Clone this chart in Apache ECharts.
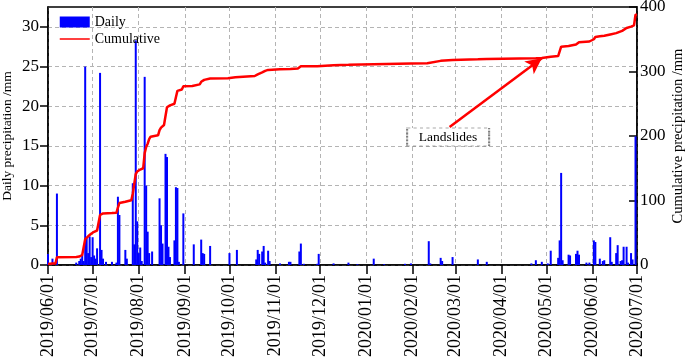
<!DOCTYPE html>
<html>
<head>
<meta charset="utf-8">
<script src="https://cdn.jsdelivr.net/npm/echarts@6/dist/echarts.min.js"></script>
<style>html,body{margin:0;padding:0;background:#fff}#c{width:685px;height:363px}</style>
</head>
<body>
<div id="c"></div>
<script>
// ---- data ----
const startDate = '2019/06/01';
const endDate = '2020/07/01';
const leftTicks = [0, 5, 10, 15, 20, 25, 30];
const rightTicks = [0, 100, 200, 300, 400];

const dailyDates = [
 '2019/06/01','2019/06/04','2019/06/07','2019/06/20','2019/06/22','2019/06/23','2019/06/24','2019/06/25',
 '2019/06/26','2019/06/27','2019/06/28','2019/06/29','2019/06/30','2019/07/01','2019/07/02','2019/07/03',
 '2019/07/04','2019/07/06','2019/07/07','2019/07/08','2019/07/10','2019/07/14','2019/07/17','2019/07/18',
 '2019/07/19','2019/07/23','2019/07/24','2019/07/28','2019/07/29','2019/07/30','2019/07/31','2019/08/01',
 '2019/08/02','2019/08/03','2019/08/05','2019/08/06','2019/08/07','2019/08/08','2019/08/10','2019/08/15',
 '2019/08/16','2019/08/17','2019/08/19','2019/08/20','2019/08/21','2019/08/22','2019/08/25','2019/08/26',
 '2019/08/27','2019/08/28','2019/08/31','2019/09/07','2019/09/12','2019/09/13','2019/09/14','2019/09/18',
 '2019/10/01','2019/10/06','2019/10/19','2019/10/20','2019/10/21','2019/10/23','2019/10/24','2019/10/25',
 '2019/10/27','2019/10/28','2019/11/04','2019/11/10','2019/11/11','2019/11/17','2019/11/18','2019/11/20',
 '2019/11/29','2019/11/30','2019/12/10','2019/12/20','2019/12/26','2020/01/06','2020/01/13','2020/01/27',
 '2020/01/31','2020/02/12','2020/02/13','2020/02/20','2020/02/21','2020/02/28','2020/03/16','2020/03/22',
 '2020/04/21','2020/04/24','2020/04/28','2020/05/02','2020/05/04','2020/05/09','2020/05/10','2020/05/11',
 '2020/05/12','2020/05/16','2020/05/17','2020/05/21','2020/05/22','2020/05/23','2020/05/28','2020/05/30',
 '2020/06/02','2020/06/03','2020/06/06','2020/06/08','2020/06/09','2020/06/13','2020/06/14','2020/06/17',
 '2020/06/18','2020/06/20','2020/06/21','2020/06/22','2020/06/24','2020/06/25','2020/06/27','2020/06/28',
 '2020/06/30'
];
const dailyValues = [
 1.4,0.8,9.0,0.3,0.5,0.8,1.3,0.5,
 25.0,3.4,1.5,3.6,1.0,3.5,1.2,0.8,
 2.1,24.2,1.9,0.8,0.4,0.4,0.3,8.6,
 6.3,1.9,0.8,10.3,2.6,28.3,5.5,1.5,
 2.2,0.5,23.7,10.0,4.2,1.5,1.7,8.4,
 5.0,2.7,14.0,13.6,2.3,1.0,3.1,9.8,
 9.7,0.4,6.5,2.6,3.2,1.5,1.4,2.4,
 1.5,1.9,0.7,1.9,1.4,1.7,2.4,0.3,
 1.8,0.5,0.2,0.4,0.4,1.7,2.7,0.15,
 0.15,1.4,0.2,0.3,0.1,0.8,0.1,0.15,
 0.2,3.0,0.2,0.9,0.5,1.0,0.7,0.4,
 0.2,0.6,0.4,0.2,1.8,0.9,3.1,11.6,
 0.6,1.3,1.2,1.4,1.8,1.3,0.3,0.3,
 3.1,2.9,0.8,0.5,0.6,3.5,0.4,1.5,
 2.5,0.5,0.6,2.3,2.3,0.3,1.5,0.7,
 16.2
];

const cumDates = [
 '2019/06/01','2019/06/04','2019/06/06','2019/06/07','2019/06/20','2019/06/22','2019/06/23','2019/06/24',
 '2019/06/25','2019/06/26','2019/06/27','2019/06/28','2019/06/29','2019/06/30','2019/07/01','2019/07/02',
 '2019/07/04','2019/07/05','2019/07/06','2019/07/07','2019/07/08','2019/07/14','2019/07/17','2019/07/18',
 '2019/07/19','2019/07/23','2019/07/24','2019/07/27','2019/07/28','2019/07/29','2019/07/30','2019/07/31',
 '2019/08/02','2019/08/04','2019/08/05','2019/08/06','2019/08/07','2019/08/08','2019/08/09','2019/08/10',
 '2019/08/14','2019/08/15','2019/08/16','2019/08/17','2019/08/18','2019/08/19','2019/08/20','2019/08/21',
 '2019/08/22','2019/08/25','2019/08/26','2019/08/27','2019/08/28','2019/08/30','2019/08/31','2019/09/06',
 '2019/09/07','2019/09/11','2019/09/12','2019/09/13','2019/09/14','2019/09/18','2019/09/30','2019/10/01',
 '2019/10/05','2019/10/06','2019/10/18','2019/10/19','2019/10/20','2019/10/21','2019/10/23','2019/10/24',
 '2019/10/25','2019/10/27','2019/10/28','2019/11/04','2019/11/11','2019/11/16','2019/11/17','2019/11/18',
 '2019/11/29','2019/11/30','2019/12/10','2019/12/20','2020/01/06','2020/01/31','2020/02/11','2020/02/12',
 '2020/02/20','2020/02/21','2020/02/28','2020/03/16','2020/03/22','2020/04/24','2020/04/28','2020/05/04',
 '2020/05/09','2020/05/10','2020/05/11','2020/05/16','2020/05/17','2020/05/21','2020/05/22','2020/05/23',
 '2020/05/30','2020/06/02','2020/06/03','2020/06/06','2020/06/09','2020/06/13','2020/06/17','2020/06/18',
 '2020/06/21','2020/06/22','2020/06/24','2020/06/27','2020/06/29','2020/06/30','2020/07/01'
];
const cumValues = [
 1.4,2.2,2.2,12,12.5,13,14,15.5,
 16,40,43,44.5,47.5,48.5,50.5,51.5,
 53.5,54,77.5,79,80,80.5,81,89,
 96,98,99,100.5,110.5,113,141,145,
 148,150,173.5,183,188,195,199,200,
 201,209,213,216,217,231,244.5,246.5,
 247.5,250,260,270,271,272,277,277.5,
 279.5,280,284,285.5,287,289,289.5,290.5,
 291,292.5,293,294,295.5,297,298.5,300.5,
 301,302.5,303,303.3,303.8,304.5,306,308,
 308.3,309.5,309.8,310.3,311.2,312.3,312.7,315.5,
 316.5,317,318,318.8,319.3,320.5,321,323,
 324,327,338.5,339.5,340.5,342,344,345.5,
 346.5,350,353.5,354.5,355.5,357.5,359.5,362,
 363,365.5,367.5,369.5,371.5,388,388
];

// annotation (data coordinates on the cumulative axis)
const arrowFrom = ['2020/02/26', 214];
const arrowTo = ['2020/04/28', 320.5];
const noteAt = ['2020/02/25', 198.5];
const noteText = 'Landslides';

// ---- build categories (one per day) ----
function fmt(d){
  const y=d.getUTCFullYear(), m=('0'+(d.getUTCMonth()+1)).slice(-2), dd=('0'+d.getUTCDate()).slice(-2);
  return y+'/'+m+'/'+dd;
}
const categories = [];
{
  const p = startDate.split('/').map(Number), q = endDate.split('/').map(Number);
  let t = Date.UTC(p[0], p[1]-1, p[2]); const tEnd = Date.UTC(q[0], q[1]-1, q[2]);
  while (t <= tEnd) { categories.push(fmt(new Date(t))); t += 86400000; }
}
const dailySeries = categories.map(() => null);
dailyDates.forEach((d,i) => { const k = categories.indexOf(d); if (k >= 0) dailySeries[k] = dailyValues[i]; });
const cumSeries = cumDates.map((d,i) => [d, cumValues[i]]);

const isMonthStart = (idx, val) => String(val).slice(-2) === '01';
const FONT = "'Liberation Serif','Times New Roman',serif";

const chart = echarts.init(document.getElementById('c'), null, {renderer:'canvas'});
chart.setOption({
  animation: false,
  backgroundColor: '#fff',
  textStyle: { fontFamily: FONT },
  grid: { left: 48, right: 48, top: 7, bottom: 98, containLabel: false, outerBoundsMode: 'none',
          show: true, borderColor: '#000', borderWidth: 1.5, backgroundColor: 'transparent' },
  legend: {
    orient: 'vertical', left: 54, top: 10, itemWidth: 30, itemHeight: 11, itemGap: 3,
    textStyle: { fontFamily: FONT, fontSize: 14, color: '#000' },
    data: [
      { name: 'Daily', icon: 'rect' },
      { name: 'Cumulative', itemStyle: { opacity: 0 }, lineStyle: { width: 1.5 } }
    ]
  },
  xAxis: {
    type: 'category', data: categories, boundaryGap: false,
    axisLine: { lineStyle: { color: '#000', width: 1.5 } },
    axisTick: { interval: isMonthStart, length: 9, lineStyle: { color: '#000', width: 1.5 } },
    axisLabel: { interval: isMonthStart, rotate: 90, margin: 10, fontSize: 18, color: '#000', fontFamily: FONT },
    splitLine: { show: true, interval: isMonthStart, lineStyle: { color: '#b4b4b4', type: [4, 3], width: 1 } }
  },
  yAxis: [
    {
      type: 'value', min: 0, max: 32.5, interval: 5, position: 'left',
      name: 'Daily precipitation /mm', nameLocation: 'middle', nameGap: 34, nameRotate: 90, nameMoveOverlap: false,
      nameTextStyle: { fontFamily: FONT, fontSize: 13.5, color: '#000' },
      axisLine: { show: true, lineStyle: { color: '#000', width: 1.5 } },
      axisTick: { show: true, length: 8, customValues: leftTicks, lineStyle: { color: '#000', width: 1.5 } },
      axisLabel: { margin: 9, fontSize: 17, color: '#000', fontFamily: FONT, customValues: leftTicks },
      splitLine: { show: true, lineStyle: { color: '#b4b4b4', type: [4, 3], width: 1 } }
    },
    {
      type: 'value', min: 0, max: 400, interval: 100, position: 'right',
      name: 'Cumulative precipitation /mm', nameLocation: 'middle', nameGap: 34, nameRotate: 90, nameMoveOverlap: false,
      nameTextStyle: { fontFamily: FONT, fontSize: 14.5, color: '#000' },
      axisLine: { show: true, lineStyle: { color: '#000', width: 1.5 } },
      axisTick: { show: true, inside: true, length: 8, customValues: rightTicks, lineStyle: { color: '#000', width: 1.5 } },
      axisLabel: { margin: 3, fontSize: 17, color: '#000', fontFamily: FONT, customValues: rightTicks },
      splitLine: { show: false }
    }
  ],
  series: [
    {
      name: 'Daily', type: 'bar', data: dailySeries, yAxisIndex: 0,
      barWidth: 2, itemStyle: { color: '#0000ff' }, z: 2
    },
    {
      name: 'Cumulative', type: 'line', data: cumSeries, yAxisIndex: 1,
      symbol: 'none', lineStyle: { color: '#ff0000', width: 2.5 }, itemStyle: { color: '#ff0000' }, z: 3,
      markLine: {
        silent: true, symbol: ['none', 'arrow'], symbolSize: [12, 16],
        lineStyle: { color: '#ff0000', width: 2.5, type: 'solid' },
        label: { show: false },
        data: [[ { coord: arrowFrom }, { coord: arrowTo } ]]
      },
      markPoint: {
        silent: true, symbol: 'rect', symbolSize: [82, 18],
        itemStyle: { color: '#fff', borderColor: '#555', borderType: [1.5, 1.5], borderWidth: 1 },
        label: { show: true, position: 'inside', formatter: noteText, color: '#000', fontSize: 13.5, fontFamily: FONT },
        data: [ { coord: noteAt } ]
      }
    }
  ]
});
</script>
</body>
</html>
